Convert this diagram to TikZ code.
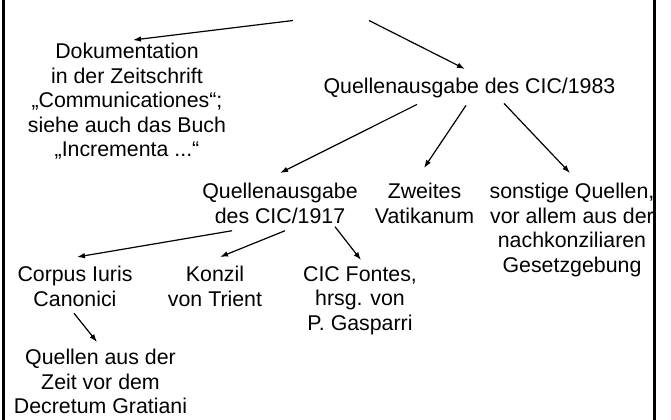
\documentclass[tikz,border=0pt]{standalone}
\usepackage{fontspec}
\setmainfont{Liberation Sans}
\usetikzlibrary{arrows.meta,calc}

\tikzset{
  txt/.style={align=center, inner sep=0pt, anchor=north,
    font=\fontsize{16}{18.4}\selectfont},
  arr/.style={-{Latex[length=6pt,width=4.2pt]}, line width=0.9pt},
}

\begin{document}
\begin{tikzpicture}[x=0.75pt,y=-0.75pt]
        \useasboundingbox (0,0) rectangle (671,419);

        % texts
        \node[txt] (doku) at (127,43) {Dokumentation\\in der Zeitschrift\\„Communicationes“;\\siehe auch das Buch\\„Incrementa ...“};
        \node[txt] (q83) at (469.5,78) {Quellenausgabe des CIC/1983};
        \node[txt] (q17) at (280,183) {Quellenausgabe\\des CIC/1917};
        \node[txt] (vat) at (424.5,183) {Zweites\\Vatikanum};
        \node[txt] (sonst) at (572,183) {sonstige Quellen,\\vor allem aus der\\nachkonziliaren\\Gesetzgebung};
        \node[txt] (cic) at (75,266) {Corpus Iuris\\Canonici};
        \node[txt] (trient) at (215,266) {Konzil\\von Trient};
        \node[txt] (fontes) at (360,266) {CIC Fontes,\\hrsg. von\\P. Gasparri};
        \node[txt] (vorgrat) at (100.5,349) {Quellen aus der\\Zeit vor dem\\Decretum Gratiani};

        % title above (cut off)
        \coordinate (titelL) at (293,20.5);
        \coordinate (titelR) at (369,20.5);

        \draw[arr] (titelL) -- ($(doku.north)+(6,-3)$);
        \draw[arr] (titelR) -- ($(q83.north)+(-4.5,-9)$);

        \draw[arr] ($(q83.south)+(-52.5,6)$) -- ($(q17.north)+(0,-10)$);
        \draw[arr] ($(q83.south)+(-3.5,7)$) -- ($(vat.north)+(-0.5,-15)$);
        \draw[arr] ($(q83.south)+(34.5,5)$) -- ($(sonst.north)+(-2,-10)$);

        \draw[arr] ($(q17.south)+(-48,7)$) -- ($(cic.north)+(2,-9)$);
        \draw[arr] ($(q17.south)+(5,7)$) -- ($(trient.north)+(5,-9)$);
        \draw[arr] ($(q17.south)+(55,3)$) -- ($(fontes.north)+(1,-6)$);

        \draw[arr] ($(cic.south)+(-1,6.5)$) -- ($(vorgrat.north)+(-3.5,-7)$);

        % frame
        \draw[line width=1.8pt] (3.5,-20) rectangle (654.5,440);
\end{tikzpicture}
\end{document}
